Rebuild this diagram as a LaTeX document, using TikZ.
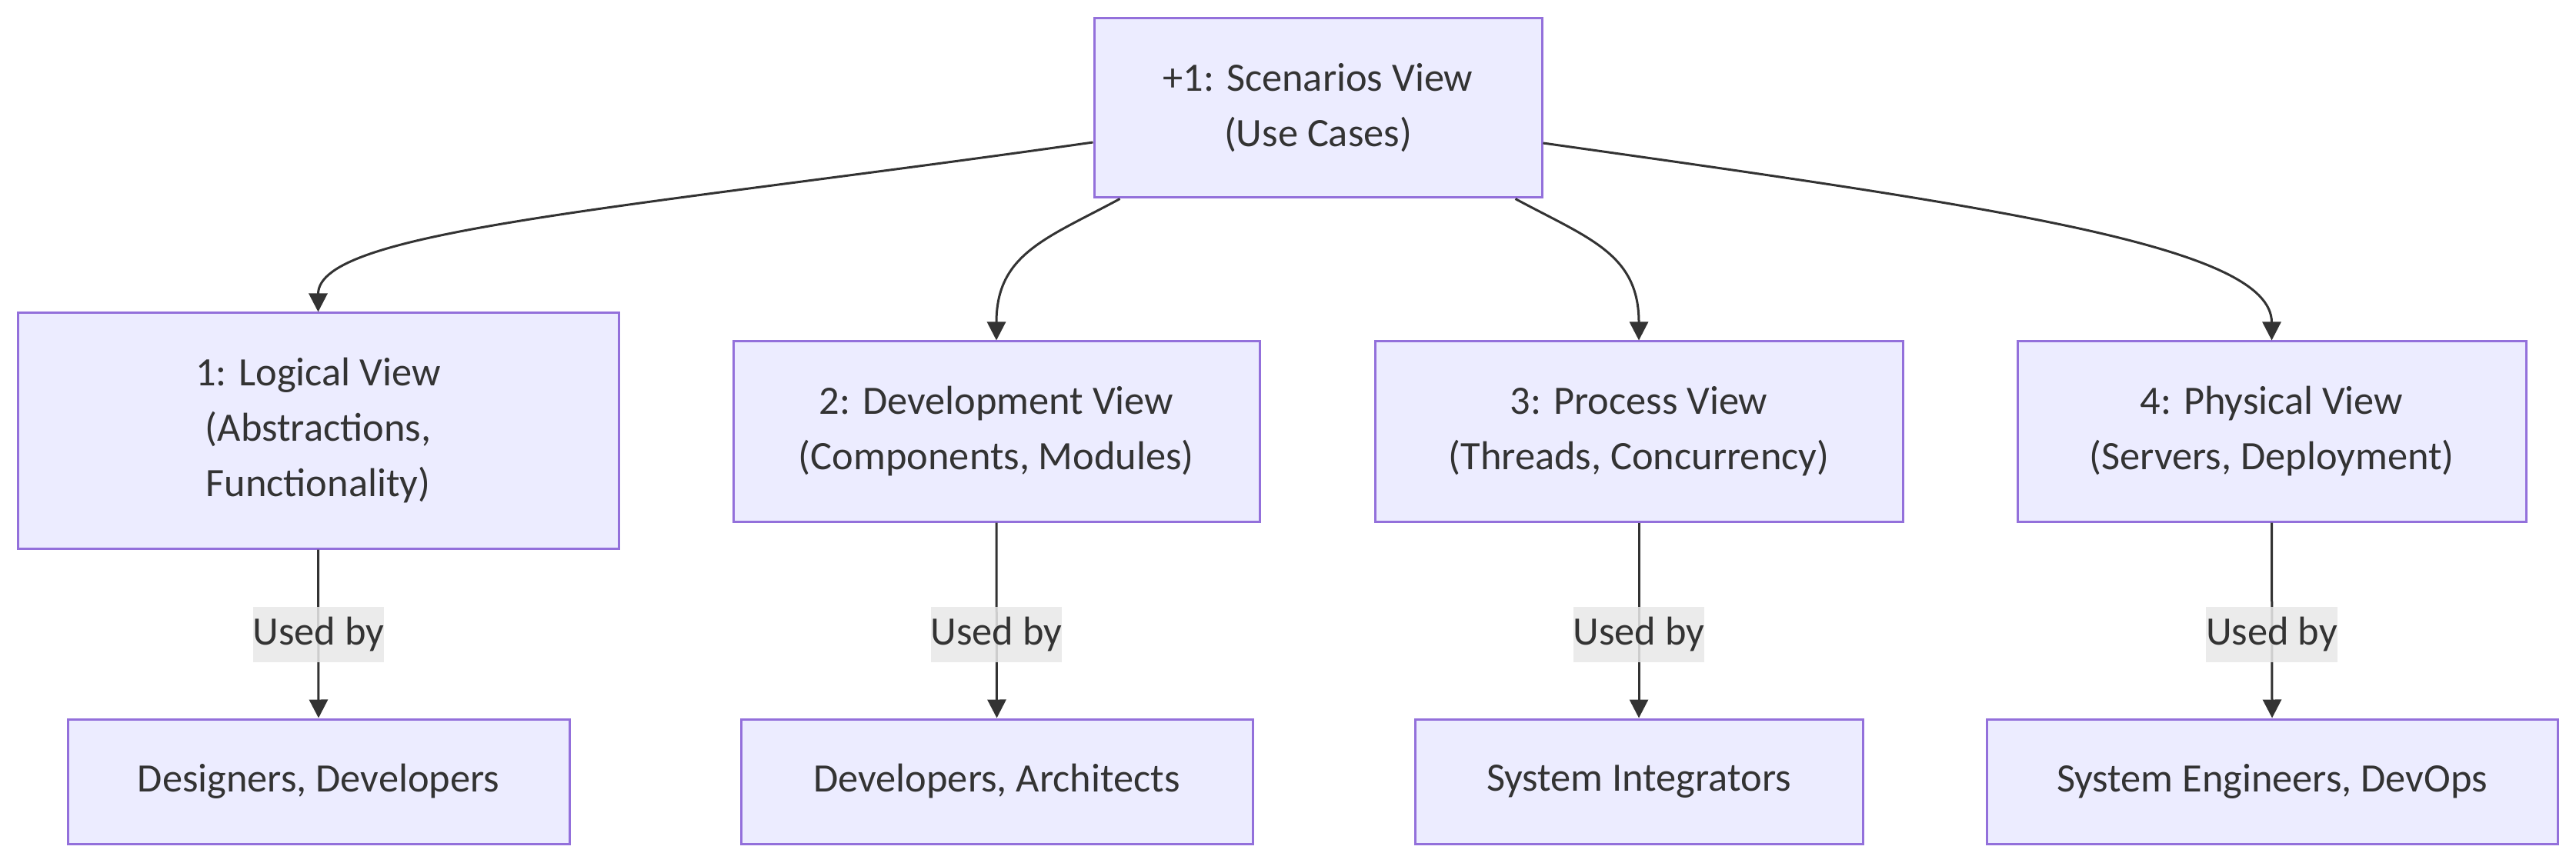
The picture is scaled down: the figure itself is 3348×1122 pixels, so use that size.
\documentclass[tikz,border=0pt]{standalone}
\usepackage{fontspec}
\setmainfont{Carlito}
\usetikzlibrary{arrows.meta,calc}
\definecolor{nodefill}{HTML}{ECECFF}
\definecolor{nodeborder}{HTML}{9370DB}
\definecolor{edgecol}{HTML}{333333}
\definecolor{labelbg}{HTML}{E8E8E8}
\begin{document}
\begin{tikzpicture}[x=0.25pt,y=-0.25pt,
  viewbox/.style={draw=nodeborder,fill=nodefill,line width=0.75pt,inner sep=0pt,
    align=center,text=edgecol,font=\fontsize{13.1}{18}\selectfont},
  edge/.style={draw=edgecol,line width=0.75pt,-{Triangle[width=6pt,length=6pt]}},
  usedlbl/.style={fill=labelbg,fill opacity=0.85,text opacity=1,text=edgecol,inner sep=0pt,
    minimum width=42pt,minimum height=18pt,font=\fontsize{13.1}{18}\selectfont}]
\useasboundingbox (0,0) rectangle (3348,1122);
% top
\node[viewbox,minimum width=145.5pt,minimum height=58.25pt] (top) at (1713,140.5) {+1: Scenarios View\\(Use Cases)};
% views
\node[viewbox,minimum width=195.25pt,minimum height=76.5pt] (logical) at (413.5,560) {1: Logical View\\(Abstractions,\\Functionality)};
\node[viewbox,minimum width=171pt,minimum height=58.5pt] (dev) at (1295,561) {2: Development View\\(Components, Modules)};
\node[viewbox,minimum width=171.5pt,minimum height=58.5pt] (proc) at (2130,561) {3: Process View\\(Threads, Concurrency)};
\node[viewbox,minimum width=165.25pt,minimum height=58.5pt] (phys) at (2952.5,561) {4: Physical View\\(Servers, Deployment)};
% users
\node[viewbox,minimum width=163pt,minimum height=40.5pt] (designers) at (414,1016) {Designers, Developers};
\node[viewbox,minimum width=166.25pt,minimum height=40.5pt] (devarch) at (1295.5,1016) {Developers, Architects};
\node[viewbox,minimum width=145.5pt,minimum height=40.5pt] (sysint) at (2130,1016) {System Integrators};
\node[viewbox,minimum width=185.5pt,minimum height=40.5pt] (syseng) at (2953,1016) {System Engineers, DevOps};
% curved edges from top
\coordinate (sL) at ($(top.west)+(0,44.5)$);
\coordinate (sD) at ($(top.south west)+(35,0)$);
\coordinate (sP) at ($(top.south east)+(-36,0)$);
\coordinate (sR) at ($(top.east)+(0,45.5)$);
\draw[edge] (sL) .. controls (800,273) and (413.5,300) .. (logical.north);
\draw[edge] (sD) .. controls (1360,310) and (1295,330) .. (dev.north);
\draw[edge] (sP) .. controls (2065,310) and (2130,330) .. (proc.north);
\draw[edge] (sR) .. controls (2595,269) and (2952.5,320) .. (phys.north);
% used by edges
\draw[edge] (logical.south) -- (designers.north);
\draw[edge] (dev.south) -- (devarch.north);
\draw[edge] (proc.south) -- (sysint.north);
\draw[edge] (phys.south) -- (syseng.north);
\node[usedlbl] (l1) at (414,825) {Used by};
\node[usedlbl] (l2) at (1295,825) {Used by};
\node[usedlbl] (l3) at (2130,825) {Used by};
\node[usedlbl] (l4) at (2952.5,825) {Used by};
\end{tikzpicture}
\end{document}
